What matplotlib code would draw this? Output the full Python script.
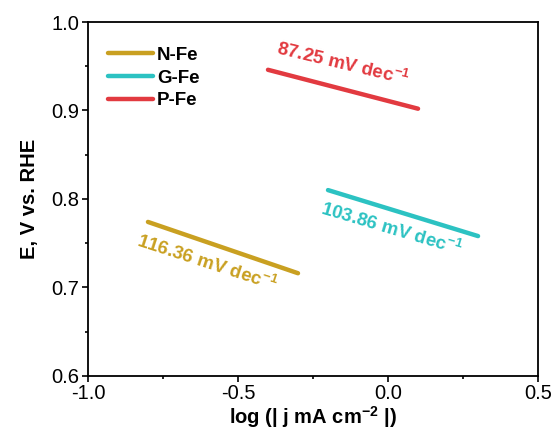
import matplotlib
matplotlib.use("Agg")
import matplotlib.pyplot as plt
from matplotlib.ticker import MultipleLocator

plt.rcParams['font.family'] = ['Liberation Sans', 'DejaVu Sans']
plt.rcParams['mathtext.fontset'] = 'custom'
plt.rcParams['mathtext.rm'] = 'Liberation Sans'
plt.rcParams['mathtext.bf'] = 'Liberation Sans:bold'
plt.rcParams['mathtext.default'] = 'regular'
plt.rcParams['axes.unicode_minus'] = False

# Data
series = ["N-Fe", "G-Fe", "P-Fe"]
nfe_x = [-0.8, -0.3]
nfe_y = [0.774, 0.716]
gfe_x = [-0.2, 0.3]
gfe_y = [0.810, 0.758]
pfe_x = [-0.4, 0.1]
pfe_y = [0.946, 0.902]
slopes = ["116.36", "103.86", "87.25"]
colors = ["#C9A021", "#2CC2C2", "#E23A40"]

fig = plt.figure(figsize=(5.53, 4.32), dpi=100)
ax = fig.add_axes([0.159, 0.130, 0.814, 0.819])

for xs, ys, name, c in zip([nfe_x, gfe_x, pfe_x], [nfe_y, gfe_y, pfe_y], series, colors):
    ax.plot(xs, ys, color=c, lw=3.2, solid_capstyle='round', label=name)

ax.set_xlim(-1.0, 0.5)
ax.set_ylim(0.6, 1.0)
ax.xaxis.set_major_locator(MultipleLocator(0.5))
ax.xaxis.set_minor_locator(MultipleLocator(0.25))
ax.yaxis.set_major_locator(MultipleLocator(0.1))
ax.yaxis.set_minor_locator(MultipleLocator(0.05))
ax.tick_params(which='major', direction='out', length=4.5, width=1.2, labelsize=14.5, pad=1.5)
ax.tick_params(which='minor', direction='out', length=2.5, width=1.2)
for s in ax.spines.values():
    s.set_linewidth(1.3)

ax.set_xlabel("log (| j mA cm$^{-2}$ |)", fontsize=14.5, fontweight='bold', labelpad=1)
ax.set_ylabel("E, V vs. RHE", fontsize=14.5, fontweight='bold', labelpad=9)

# annotations
ann_pos = [(-0.605, 0.728, -18), (0.012, 0.766, -16.5), (-0.152, 0.953, -13.5)]
for (x, y, rot), s, c in zip(ann_pos, slopes, colors):
    ax.text(x, y, s + " mV dec$^{-1}$", color=c, fontsize=13.5, fontweight='bold',
            rotation=rot, rotation_mode='anchor', ha='center', va='center')

leg = ax.legend(loc='upper left', frameon=False, prop={'weight': 'bold', 'size': 13.5},
                handlelength=2.4, handletextpad=0.2, labelspacing=0.3,
                bbox_to_anchor=(0.02, 0.962), borderaxespad=0.2)

fig.savefig("out.png", dpi=100)
